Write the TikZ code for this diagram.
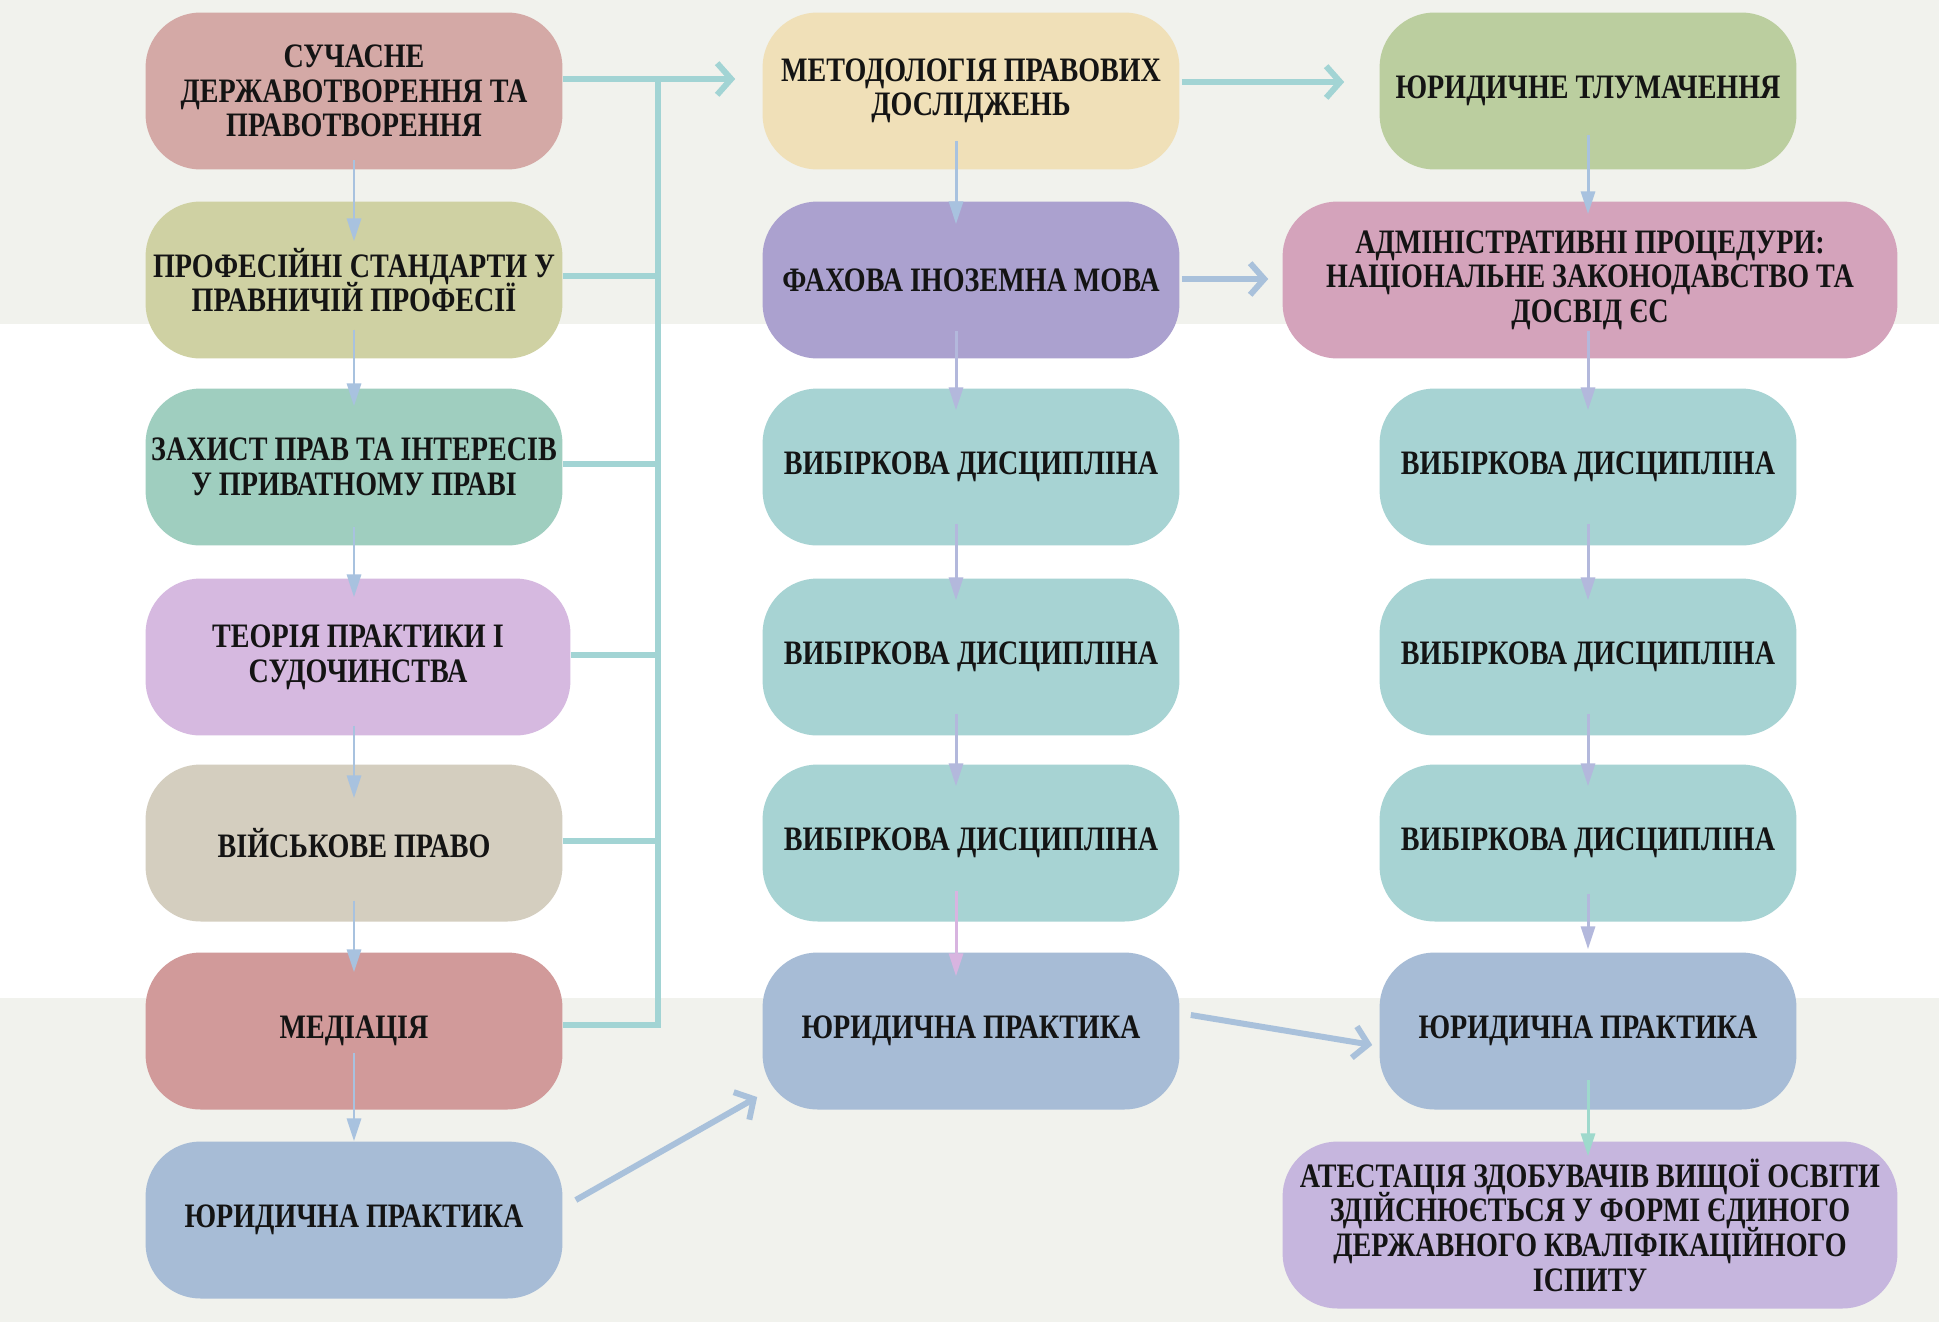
\documentclass[tikz,border=0pt]{standalone}
\usepackage{fontspec}
\setmainfont{Liberation Serif}[FakeStretch=0.82]
\usetikzlibrary{arrows.meta,calc}
\newcommand\myboxfont{\fontsize{19.5}{19.7}\selectfont\bfseries\lineskiplimit=-30pt\relax}
\definecolor{bandgray}{HTML}{F1F2ED}
\definecolor{cSuch}{HTML}{D4A9A6}
\definecolor{cProf}{HTML}{CFD1A3}
\definecolor{cZakh}{HTML}{9FCEBF}
\definecolor{cTeor}{HTML}{D6B9E0}
\definecolor{cViys}{HTML}{D4CEBF}
\definecolor{cMed}{HTML}{D19A9A}
\definecolor{cYur}{HTML}{A7BCD6}
\definecolor{cMet}{HTML}{F0E0B8}
\definecolor{cFakh}{HTML}{ABA1CF}
\definecolor{cVyb}{HTML}{A7D3D3}
\definecolor{cTlum}{HTML}{BBCE9F}
\definecolor{cAdm}{HTML}{D4A3BB}
\definecolor{cAtes}{HTML}{C6B6DE}
\definecolor{teal}{HTML}{A2D4D4}
\definecolor{steel}{HTML}{A9C1DB}
\definecolor{arrL}{HTML}{A8C2DF}
\definecolor{arrM}{HTML}{B3B8DC}
\definecolor{arrPink}{HTML}{D8B4E0}
\definecolor{arrGreen}{HTML}{9ED9CC}
\definecolor{txt}{HTML}{141414}
\begin{document}
\begin{tikzpicture}[x=0.02cm,y=-0.02cm,
  box/.style={rounded corners=1.1cm, inner sep=0pt, minimum width=8.34cm,
    minimum height=3.14cm, align=center, text=txt, font=\myboxfont},
  widebox/.style={box, minimum width=12.3cm},
  bus/.style={draw=teal, line width=3.4pt},
  thickT/.style={draw=teal, line width=3.4pt, -{Straight Barb[length=8pt,width=18pt]}},
  thickB/.style={draw=steel, line width=3.4pt, -{Straight Barb[length=8pt,width=18pt]}},
  thin/.style={line width=1.7pt, -{Triangle[length=13pt,width=8pt]}}
]
% background
\fill[white] (0,0) rectangle (1939,1322);
\fill[bandgray] (0,0) rectangle (1939,324);
\fill[bandgray] (0,998) rectangle (1939,1322);

% left column
\node[box, fill=cSuch] (l1) at (354,91) {СУЧАСНЕ\\ДЕРЖАВОТВОРЕННЯ ТА\\ПРАВОТВОРЕННЯ};
\node[box, fill=cProf] (l2) at (354,280) {ПРОФЕСІЙНІ СТАНДАРТИ У\\ПРАВНИЧІЙ ПРОФЕСІЇ};
\node[box, fill=cZakh] (l3) at (354,467) {ЗАХИСТ ПРАВ ТА ІНТЕРЕСІВ\\У ПРИВАТНОМУ ПРАВІ};
\node[box, fill=cTeor, minimum width=8.5cm] (l4) at (358,657) {ТЕОРІЯ ПРАКТИКИ І\\СУДОЧИНСТВА};
\node[box, fill=cViys] (l5) at (354,843) {ВІЙСЬКОВЕ ПРАВО};
\node[box, fill=cMed] (l6) at (354,1031) {МЕДІАЦІЯ};
\node[box, fill=cYur] (l7) at (354,1220) {ЮРИДИЧНА ПРАКТИКА};

% middle column
\node[box, fill=cMet] (m1) at (971,91) {МЕТОДОЛОГІЯ ПРАВОВИХ\\ДОСЛІДЖЕНЬ};
\node[box, fill=cFakh] (m2) at (971,280) {ФАХОВА ІНОЗЕМНА МОВА};
\node[box, fill=cVyb] (m3) at (971,467) {ВИБІРКОВА ДИСЦИПЛІНА};
\node[box, fill=cVyb] (m4) at (971,657) {ВИБІРКОВА ДИСЦИПЛІНА};
\node[box, fill=cVyb] (m5) at (971,843) {ВИБІРКОВА ДИСЦИПЛІНА};
\node[box, fill=cYur] (m6) at (971,1031) {ЮРИДИЧНА ПРАКТИКА};

% right column
\node[box, fill=cTlum] (r1) at (1588,91) {ЮРИДИЧНЕ ТЛУМАЧЕННЯ};
\node[widebox, fill=cAdm] (r2) at (1590,280) {АДМІНІСТРАТИВНІ ПРОЦЕДУРИ:\\НАЦІОНАЛЬНЕ ЗАКОНОДАВСТВО ТА\\ДОСВІД ЄС};
\node[box, fill=cVyb] (r3) at (1588,467) {ВИБІРКОВА ДИСЦИПЛІНА};
\node[box, fill=cVyb] (r4) at (1588,657) {ВИБІРКОВА ДИСЦИПЛІНА};
\node[box, fill=cVyb] (r5) at (1588,843) {ВИБІРКОВА ДИСЦИПЛІНА};
\node[box, fill=cYur] (r6) at (1588,1031) {ЮРИДИЧНА ПРАКТИКА};
\node[widebox, fill=cAtes, minimum height=3.34cm] (r7) at (1590,1225) {АТЕСТАЦІЯ ЗДОБУВАЧІВ ВИЩОЇ ОСВІТИ\\ЗДІЙСНЮЄТЬСЯ У ФОРМІ ЄДИНОГО\\ДЕРЖАВНОГО КВАЛІФІКАЦІЙНОГО\\ІСПИТУ};

% bus from left column
\coordinate (bt) at (658,79);
\coordinate (bb) at (658,1025);
\draw[bus] (bt) -- (bb) -- (bb -| l6.east);
\draw[thickT] ($(l1.east)+(0,-12)$) -- ($(m1.west)+(-27,-12)$);
\draw[bus] ($(l2.east)+(0,-4)$) coordinate (s2) -- (s2 -| bt);
\draw[bus] ($(l3.east)+(0,-3)$) coordinate (s3) -- (s3 -| bt);
\draw[bus] ($(l4.east)+(0,-2)$) coordinate (s4) -- (s4 -| bt);
\draw[bus] ($(l5.east)+(0,-2)$) coordinate (s5) -- (s5 -| bt);

% thick horizontal / diagonal arrows
\draw[thickT] ($(m1.east)+(2,-9)$) -- ($(r1.west)+(-35,-9)$);
\draw[thickB] ($(m2.east)+(2,-1)$) -- ($(r2.west)+(-14,-1)$);
\draw[thickB] ($(l7.east)+(13,-20)$) -- ($(m6.west)+(-5,66)$);
\draw[thickB] ($(m6.east)+(11,-16)$) -- ($(r6.west)+(-7,14)$);

% thin arrows, left column
\draw[thin, draw=arrL, fill=arrL] ($(l1.south)+(0,-10)$) -- ($(l2.north)+(0,40)$);
\draw[thin, draw=arrL, fill=arrL] ($(l2.south)+(0,-29)$) -- ($(l3.north)+(0,18)$);
\draw[thin, draw=arrL, fill=arrL] ($(l3.south)+(0,-19)$) -- ($(l4.north)+(-4,19)$);
\draw[thin, draw=arrL, fill=arrL] ($(l4.south)+(-4,-10)$) -- ($(l5.north)+(0,34)$);
\draw[thin, draw=arrL, fill=arrL] ($(l5.south)+(0,-21)$) -- ($(l6.north)+(0,20)$);
\draw[thin, draw=arrL, fill=arrL] ($(l6.south)+(0,-57)$) -- ($(l7.north)+(0,0)$);

% thin arrows, middle column
\draw[thin, draw=arrL, fill=arrL] ($(m1.south)+(-15,-29)$) -- ($(m2.north)+(-15,23)$);
\draw[thin, draw=arrM, fill=arrM] ($(m2.south)+(-15,-28)$) -- ($(m3.north)+(-15,22)$);
\draw[thin, draw=arrM, fill=arrM] ($(m3.south)+(-15,-22)$) -- ($(m4.north)+(-15,22)$);
\draw[thin, draw=arrM, fill=arrM] ($(m4.south)+(-15,-22)$) -- ($(m5.north)+(-15,22)$);
\draw[thin, draw=arrPink, fill=arrPink] ($(m5.south)+(-15,-31)$) -- ($(m6.north)+(-15,24)$);

% thin arrows, right column
\draw[thin, draw=arrL, fill=arrL] ($(r1.south)+(0,-35)$) -- ($(r2.north)+(-2,13)$);
\draw[thin, draw=arrM, fill=arrM] ($(r2.south)+(-2,-28)$) -- ($(r3.north)+(0,22)$);
\draw[thin, draw=arrM, fill=arrM] ($(r3.south)+(0,-22)$) -- ($(r4.north)+(0,22)$);
\draw[thin, draw=arrM, fill=arrM] ($(r4.south)+(0,-22)$) -- ($(r5.north)+(0,22)$);
\draw[thin, draw=arrM, fill=arrM] ($(r5.south)+(0,-28)$) -- ($(r6.north)+(0,-3)$);
\draw[thin, draw=arrGreen, fill=arrGreen] ($(r6.south)+(0,-30)$) -- ($(r7.north)+(-2,15)$);
\end{tikzpicture}
\end{document}
